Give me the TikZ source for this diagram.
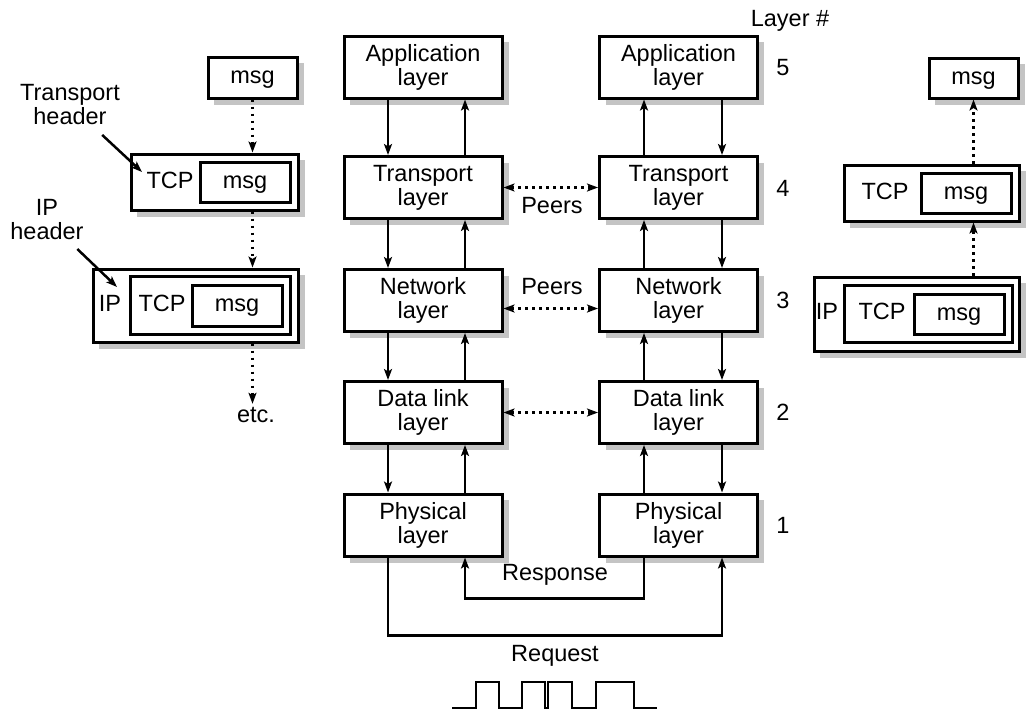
\documentclass[tikz,border=0pt]{standalone}
\usepackage{fontspec}
\setmainfont{Liberation Sans}
\usetikzlibrary{arrows.meta}
\definecolor{shadowgray}{RGB}{196,196,196}
% #1 extra options, #2 name, #3 x, #4 y, #5 width, #6 height, #7 text
\newcommand\shbox[7]{%
  \fill[shadowfill] ({#3-#5/2+6},{#4-#6/2+6}) rectangle ({#3+#5/2+6.5},{#4+#6/2+6.5});
  \node[box, minimum width=#5pt, minimum height=#6pt, #1] (#2) at (#3,#4) {#7};}
\begin{document}
\begin{tikzpicture}[x=1pt,y=-1pt,
  every node/.style={font=\fontsize{23.5}{24}\selectfont, inner sep=0pt},
  lbl/.style={text height=16pt, text depth=4pt},
  box/.style={draw, line width=3pt, fill=white, align=center},
  plainbox/.style={draw, line width=3pt, fill=white, text height=16pt, text depth=4pt},
  arr/.style={line width=2.5pt, -{Stealth[length=11pt,width=8pt,inset=2.5pt]}},
  dotarr/.style={line width=2.5pt, dash pattern=on 2.5pt off 4.5pt, -{Stealth[length=11pt,width=8pt,inset=2.5pt]}},
  peer/.style={line width=2.5pt, dash pattern=on 2.5pt off 4.5pt, {Stealth[length=11pt,width=8pt,inset=2.5pt]}-{Stealth[length=11pt,width=8pt,inset=2.5pt]}},
  shadowfill/.style={fill=shadowgray, draw=none},
]
\useasboundingbox (0,0) rectangle (1031,712);

% central layer boxes
\shbox{}{la}{423}{67}{158}{62}{Application\\layer}
\shbox{}{lt}{423}{187.5}{158}{62}{Transport\\layer}
\shbox{}{ln}{423}{300.5}{158}{62}{Network\\layer}
\shbox{}{ld}{423}{412.5}{158}{62}{Data link\\layer}
\shbox{}{lp}{423}{525}{158}{62}{Physical\\layer}
\shbox{}{ra}{678.5}{67}{158}{62}{Application\\layer}
\shbox{}{rt}{678.5}{187.5}{158}{62}{Transport\\layer}
\shbox{}{rn}{678.5}{300.5}{158}{62}{Network\\layer}
\shbox{}{rd}{678.5}{412.5}{158}{62}{Data link\\layer}
\shbox{}{rp}{678.5}{525}{158}{62}{Physical\\layer}

% vertical arrows, left stack
\foreach \u/\v in {la/lt, lt/ln, ln/ld, ld/lp}{
  \draw[arr] ([xshift=-35pt]\u.south) -- ([xshift=-35pt]\v.north);
  \draw[arr] ([xshift=42pt]\v.north) -- ([xshift=42pt]\u.south);
}
% vertical arrows, right stack
\foreach \u/\v in {ra/rt, rt/rn, rn/rd, rd/rp}{
  \draw[arr] ([xshift=-34.5pt]\v.north) -- ([xshift=-34.5pt]\u.south);
  \draw[arr] ([xshift=43.5pt]\u.south) -- ([xshift=43.5pt]\v.north);
}

% peers
\draw[peer] (lt.east) -- (rt.west);
\draw[peer] ([yshift=-8pt]ln.east) -- ([yshift=-8pt]rn.west);
\draw[peer] (ld.east) -- (rd.west);
\node[lbl] (p1) at (552,207) {Peers};
\node[lbl] (p2) at (552,288) {Peers};

% response / request
\draw[arr] ([xshift=-34.5pt]rp.south) -- ++(0,41) -| ([xshift=42pt]lp.south);
\draw[arr] ([xshift=-35pt]lp.south) -- ++(0,78) -| ([xshift=43.5pt]rp.south);
\node[lbl] (resp) at (555,574) {Response};
\node[lbl] (req) at (555,655) {Request};

% waveform
\draw[line width=2.5pt] (452,708) -- (476,708) -- (476,682) -- (499,682) -- (499,708)
  -- (522,708) -- (522,682) -- (545,682) -- (545,708) -- (548,708) -- (548,682)
  -- (572,682) -- (572,708) -- (596,708) -- (596,682) -- (634,682) -- (634,708) -- (657,708);

% layer numbers
\node[lbl] (lh) at (790,20) {Layer \#};
\node[lbl] (n5) at (783,69) {5};
\node[lbl] (n4) at (783,190) {4};
\node[lbl] (n3) at (783,302) {3};
\node[lbl] (n2) at (783,414) {2};
\node[lbl] (n1) at (783,527) {1};

% left encapsulation
\shbox{text height=16pt, text depth=4pt}{lmsg}{252.5}{77.5}{89}{41}{msg}
\shbox{}{ltcp}{214.5}{182}{167}{56}{}
\node[plainbox, minimum width=90pt, minimum height=40pt] (ltcpm) at (245,182) {msg};
\node[lbl] (ltcpl) at (170,182) {TCP};
\shbox{}{lip}{195.5}{305.5}{205}{73}{}
\node[plainbox, minimum width=160pt, minimum height=58pt] (lipt) at (210,305) {};
\node[plainbox, minimum width=90pt, minimum height=41pt] (lipm) at (237,305.5) {msg};
\node[lbl] (lipl) at (110,305) {IP};
\node[lbl] (liptl) at (162,305) {TCP};
\node[lbl] (etc) at (256,416) {etc.};
\draw[dotarr] (lmsg.south) -- (lmsg.south |- ltcp.north);
\draw[dotarr] (lmsg.south |- ltcp.south) -- (lmsg.south |- lip.north);
\draw[dotarr, shorten >=2pt] (lmsg.south |- lip.south) -- (lmsg.south |- etc.north);

\node[align=center] (th) at (70,105) {Transport\\header};
\coordinate (thtip) at (142,172);
\draw[arr, shorten <=44pt] (th.center) -- (thtip);
\node[align=center] (ih) at (47,220) {IP\\header};
\coordinate (ihtip) at (117,287);
\draw[arr, shorten <=42pt] (ih.center) -- (ihtip);

% right decapsulation
\shbox{text height=16pt, text depth=4pt}{rmsg}{973.5}{78}{89}{40}{msg}
\shbox{}{rtcp}{931.5}{193}{175}{56}{}
\node[plainbox, minimum width=90pt, minimum height=40pt] (rtcpm) at (966,193) {msg};
\node[lbl] (rtcpl) at (885,193) {TCP};
\shbox{}{rip}{916.5}{314}{205}{74}{}
\node[plainbox, minimum width=168pt, minimum height=57pt] (ript) at (928,313.5) {};
\node[plainbox, minimum width=90pt, minimum height=40pt] (ripm) at (959,314) {msg};
\node[lbl] (ripl) at (827,313) {IP};
\node[lbl] (riptl) at (882,313) {TCP};
\draw[dotarr] (rmsg.south |- rtcp.north) -- (rmsg.south);
\draw[dotarr] (rmsg.south |- rip.north) -- (rmsg.south |- rtcp.south);
\end{tikzpicture}
\end{document}
